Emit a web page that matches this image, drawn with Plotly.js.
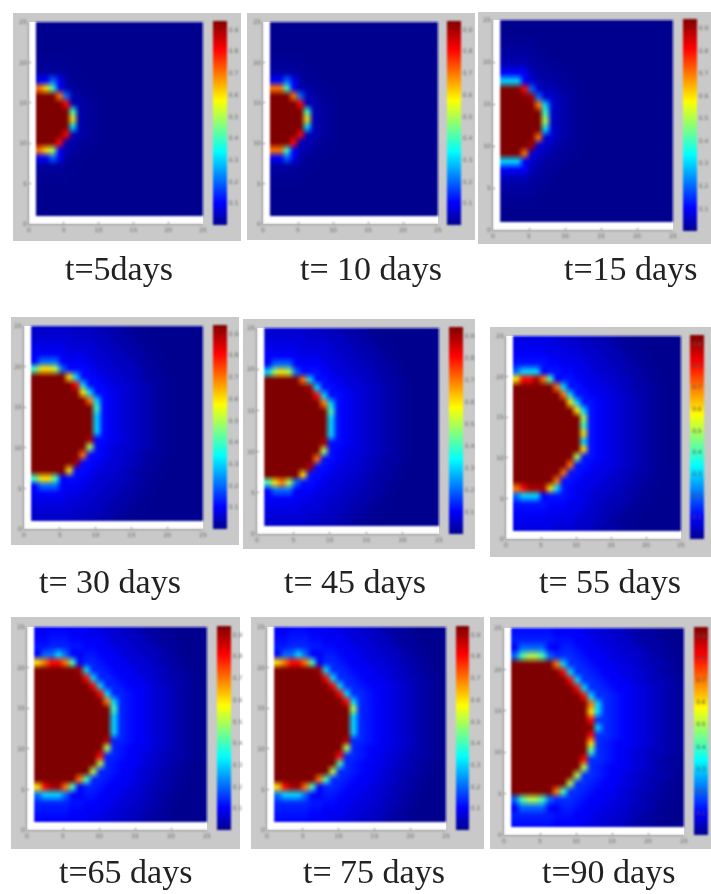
<!DOCTYPE html>
<html><head><meta charset="utf-8">
<script src="https://cdn.plot.ly/plotly-3.0.1.min.js"></script>
<style>
html,body{margin:0;padding:0;background:#fff}
#g{width:711px;height:894px}
.main-svg .cartesianlayer,.main-svg .colorbar{filter:blur(0.8px)}
</style></head><body><div id="g"></div>
<script>
// Captions
const captions = ["t=5days","t= 10 days","t=15 days","t= 30 days","t= 45 days","t= 55 days","t=65 days","t= 75 days","t=90 days"];
// Tick labels
const axisTicks = [0,5,10,15,20,25];
const barTicks = [0.1,0.2,0.3,0.4,0.5,0.6,0.7,0.8,0.9];
// Read cell values, one string per grid row from the row given in topN downward.
// Columns start at x=1. X = saturated core, a digit = tenths.
const top1 = 18;
const rows1 = ["1121","7641","XXX72","XXXX8","XXXXX4","XXXXX6","XXXXX3","XXXX8","XXX8","7651","1121"];
const top2 = 18;
const rows2 = ["1121","7741","XXX72","XXXX8","XXXXX4","XXXXX6","XXXXX3","XXXX8","XXX8","7741","1121"];
const top3 = 19;
const rows3 = ["1111","3331","XXX82","XXXX92","XXXXX73","XXXXXX4","XXXXXX5","XXXXXX3","XXXXX7","XXXX9","XXX7","3331","1111"];
const top4 = 21;
const rows4 = ["12221","46652","XXXXX63","XXXXXX83","XXXXXXX63","XXXXXXXX73","XXXXXXXXX4","XXXXXXXXX3","XXXXXXXXX3","XXXXXXXXX3","XXXXXXXX9","XXXXXXXX5","XXXXXXX7","XXXXXX9","XXXXX6","46641","12221"];
const top5 = 21;
const rows5 = ["12221","35652","XXXXX73","XXXXXX93","XXXXXXX83","XXXXXXXX73","XXXXXXXXX4","XXXXXXXXX3","XXXXXXXXX3","XXXXXXXXX3","XXXXXXXX9","XXXXXXXX5","XXXXXXX7","XXXXXX9","XXXXX6","46752","12221"];
const top6 = 21;
const rows6 = ["23331","6889741","XXXXXX73","XXXXXXX73","XXXXXXXX63","XXXXXXXXX63","XXXXXXXXXX5","XXXXXXXXXX4","XXXXXXXXXX6","XXXXXXXXXX3","XXXXXXXXXX6","XXXXXXXXX5","XXXXXXXX7","XXXXXXX7","XXXXXX7","7899963","23331"];
const top7 = 22;
const rows7 = ["1223211","6788741","XXXXXX93","XXXXXXX83","XXXXXXXX83","XXXXXXXXX83","XXXXXXXXXX73","XXXXXXXXXXX4","XXXXXXXXXXX3","XXXXXXXXXXX3","XXXXXXXXXXX3","XXXXXXXXXX9","XXXXXXXXXX5","XXXXXXXXX8","XXXXXXXXX5","XXXXXXXX5","XXXXXX74","6899741","2333211"];
const top8 = 22;
const rows8 = ["1223211","6788741","XXXXXX93","XXXXXXX83","XXXXXXXX83","XXXXXXXXX83","XXXXXXXXXX83","XXXXXXXXXXX5","XXXXXXXXXXX3","XXXXXXXXXXX3","XXXXXXXXXXX3","XXXXXXXXXX9","XXXXXXXXXX5","XXXXXXXXX8","XXXXXXXXX4","XXXXXXXX5","XXXXXX74","6899741","2333211"];
const top9 = 23;
const rows9 = ["1222211","245542","XXXXXX73","XXXXXXX83","XXXXXXXX83","XXXXXXXXX83","XXXXXXXXXX83","XXXXXXXXXXX73","XXXXXXXXXXX63","XXXXXXXXXXX8","XXXXXXXXXXXX3","XXXXXXXXXXX8","XXXXXXXXXXX6","XXXXXXXXXXX4","XXXXXXXXXX8","XXXXXXXXXX5","XXXXXXXXX5","XXXXXXXX5","XXXXXX74","245542","1222211"];
// Background level read at growing distance (in cells) from the front.
const halo1 = [.03,.015,.008,.003,0];
const halo2 = [.04,.02,.01,.005,0];
const halo3 = [.06,.035,.02,.012,.005,0];
const halo4 = [.11,.095,.08,.065,.055,.045,.035,.025,.015,.008,.003,0];
const halo5 = [.115,.10,.085,.07,.06,.05,.04,.03,.02,.012,.004,0];
const halo6 = [.12,.105,.09,.08,.065,.055,.045,.035,.025,.015,.008,.003,0];
const halo7 = [.135,.12,.105,.095,.08,.065,.055,.045,.03,.02,.012,.004,0];
const halo8 = [.14,.125,.11,.095,.085,.07,.06,.05,.035,.025,.015,.008,0];
const halo9 = [.145,.13,.115,.10,.09,.075,.065,.055,.04,.03,.02,.012,.004,0];
const coreLevel = 0.94;
const jet = [[0,'#00008f'],[.11,'#0000ff'],[.36,'#00ffff'],[.61,'#ffff00'],[.86,'#ff0000'],[1,'#7f0000']];

// Page geometry: [gray x0,x1,y0,y1, axes x0,x1,y0,y1, bar x0,x1,y0,y1]
const frames = [
 [13,241,13,241, 29,203,22,224, 213,227,21,225],
 [247,475,13,240, 263,438,22,224, 447,461,21,225],
 [478,711,12,244, 493,673,20,230, 683,697,19,231],
 [11,239,317,545, 24,203,326,529, 213,227,325,529],
 [243,475,319,549, 257,439,328,534, 449,463,327,534],
 [490,711,327,557, 506,681,336,539, 690,704,335,539],
 [11,240,617,849, 27,207,627,830, 217,231,626,830],
 [251,484,617,849, 267,446,627,830, 456,469,626,830],
 [490,711,617,849, 504,684,628,835, 694,708,627,835]
];
const captionAt = [[119,268],[371,268],[630,268],[110,581],[355,581],[610,581],[125,871],[374,871],[608,871]];
const tightBars = [5,8]; // panels whose bar sits against the page edge

const W=711,H=894;
const tops=[top1,top2,top3,top4,top5,top6,top7,top8,top9];
const rowSets=[rows1,rows2,rows3,rows4,rows5,rows6,rows7,rows8,rows9];
const halos=[halo1,halo2,halo3,halo4,halo5,halo6,halo7,halo8,halo9];
const N=25;

function buildZ(rows,top,halo){
  const z=[],known=[];
  for(let j=0;j<N;j++){z.push(new Array(N).fill(null))}
  rows.forEach((s,k)=>{const r=top-k-1;[...s].forEach((c,i)=>{
    z[r][i]=c==='X'?coreLevel:(+c)/10;
    if(c==='X'||+c>=3)known.push([i,r]);
  })});
  for(let j=0;j<N;j++)for(let i=0;i<N;i++){
    if(z[j][i]!==null)continue;
    let d=1e9;for(const [a,b] of known){const q=Math.hypot(a-i,b-j);if(q<d)d=q}
    z[j][i]=halo[Math.min(halo.length-1,Math.max(0,Math.round(d)-1))];
  }
  return z;
}
const traces=[],shapes=[],annotations=[];
const layout={width:W,height:H,margin:{l:0,r:0,t:0,b:0,autoexpand:false},paper_bgcolor:'#fff',plot_bgcolor:'rgba(0,0,0,0)',showlegend:false};
frames.forEach((f,k)=>{
  const n=k+1,xn=n===1?'x':'x'+n,yn=n===1?'y':'y'+n;
  shapes.push({type:'rect',xref:'paper',yref:'paper',layer:'below',x0:f[0]/W,x1:f[1]/W,y0:1-f[3]/H,y1:1-f[2]/H,fillcolor:'#c9c9c9',line:{width:0}});
  shapes.push({type:'rect',xref:'paper',yref:'paper',layer:'below',x0:f[4]/W,x1:f[5]/W,y0:1-f[7]/H,y1:1-f[6]/H,fillcolor:'#ffffff',line:{width:0}});
  const tick={tickmode:'array',tickvals:axisTicks,ticktext:axisTicks.map(String),ticks:'inside',ticklen:2,tickwidth:1,tickcolor:'#777',
    tickfont:{size:6,color:'#666',family:'DejaVu Sans'},showgrid:false,zeroline:false,showline:true,linecolor:'#999',linewidth:1,range:[0,25],fixedrange:true};
  layout['xaxis'+(n===1?'':n)]=Object.assign({},tick,{domain:[f[4]/W,f[5]/W],anchor:yn});
  layout['yaxis'+(n===1?'':n)]=Object.assign({},tick,{domain:[1-f[7]/H,1-f[6]/H],anchor:xn});
  const tight=tightBars.includes(k);
  traces.push({type:'heatmap',x0:1.48,dx:0.96,y0:1.48,dy:0.96,z:buildZ(rowSets[k],tops[k],halos[k]),xaxis:xn,yaxis:yn,zmin:0,zmax:coreLevel,
    zsmooth:'fast',colorscale:jet,hoverinfo:'skip',
    colorbar:{x:f[8]/W,xanchor:'left',xref:'paper',y:1-f[11]/H,yanchor:'bottom',yref:'paper',len:(f[11]-f[10])/H,lenmode:'fraction',
      thickness:f[9]-f[8],thicknessmode:'pixels',xpad:0,ypad:0,outlinewidth:0,borderwidth:0,
      tickmode:'array',tickvals:barTicks,ticktext:barTicks.map(String),ticks:'',ticklabelposition:tight?'inside':'outside',
      tickfont:{size:6,color:tight?'#555':'#666',family:'DejaVu Sans'}}});
  annotations.push({xref:'paper',yref:'paper',x:captionAt[k][0]/W,y:1-captionAt[k][1]/H,xanchor:'center',yanchor:'middle',showarrow:false,
    text:captions[k],font:{family:'Liberation Serif',size:34,color:'#222'}});
});
layout.shapes=shapes;layout.annotations=annotations;
Plotly.newPlot('g',traces,layout,{displayModeBar:false,staticPlot:true});
</script></body></html>
